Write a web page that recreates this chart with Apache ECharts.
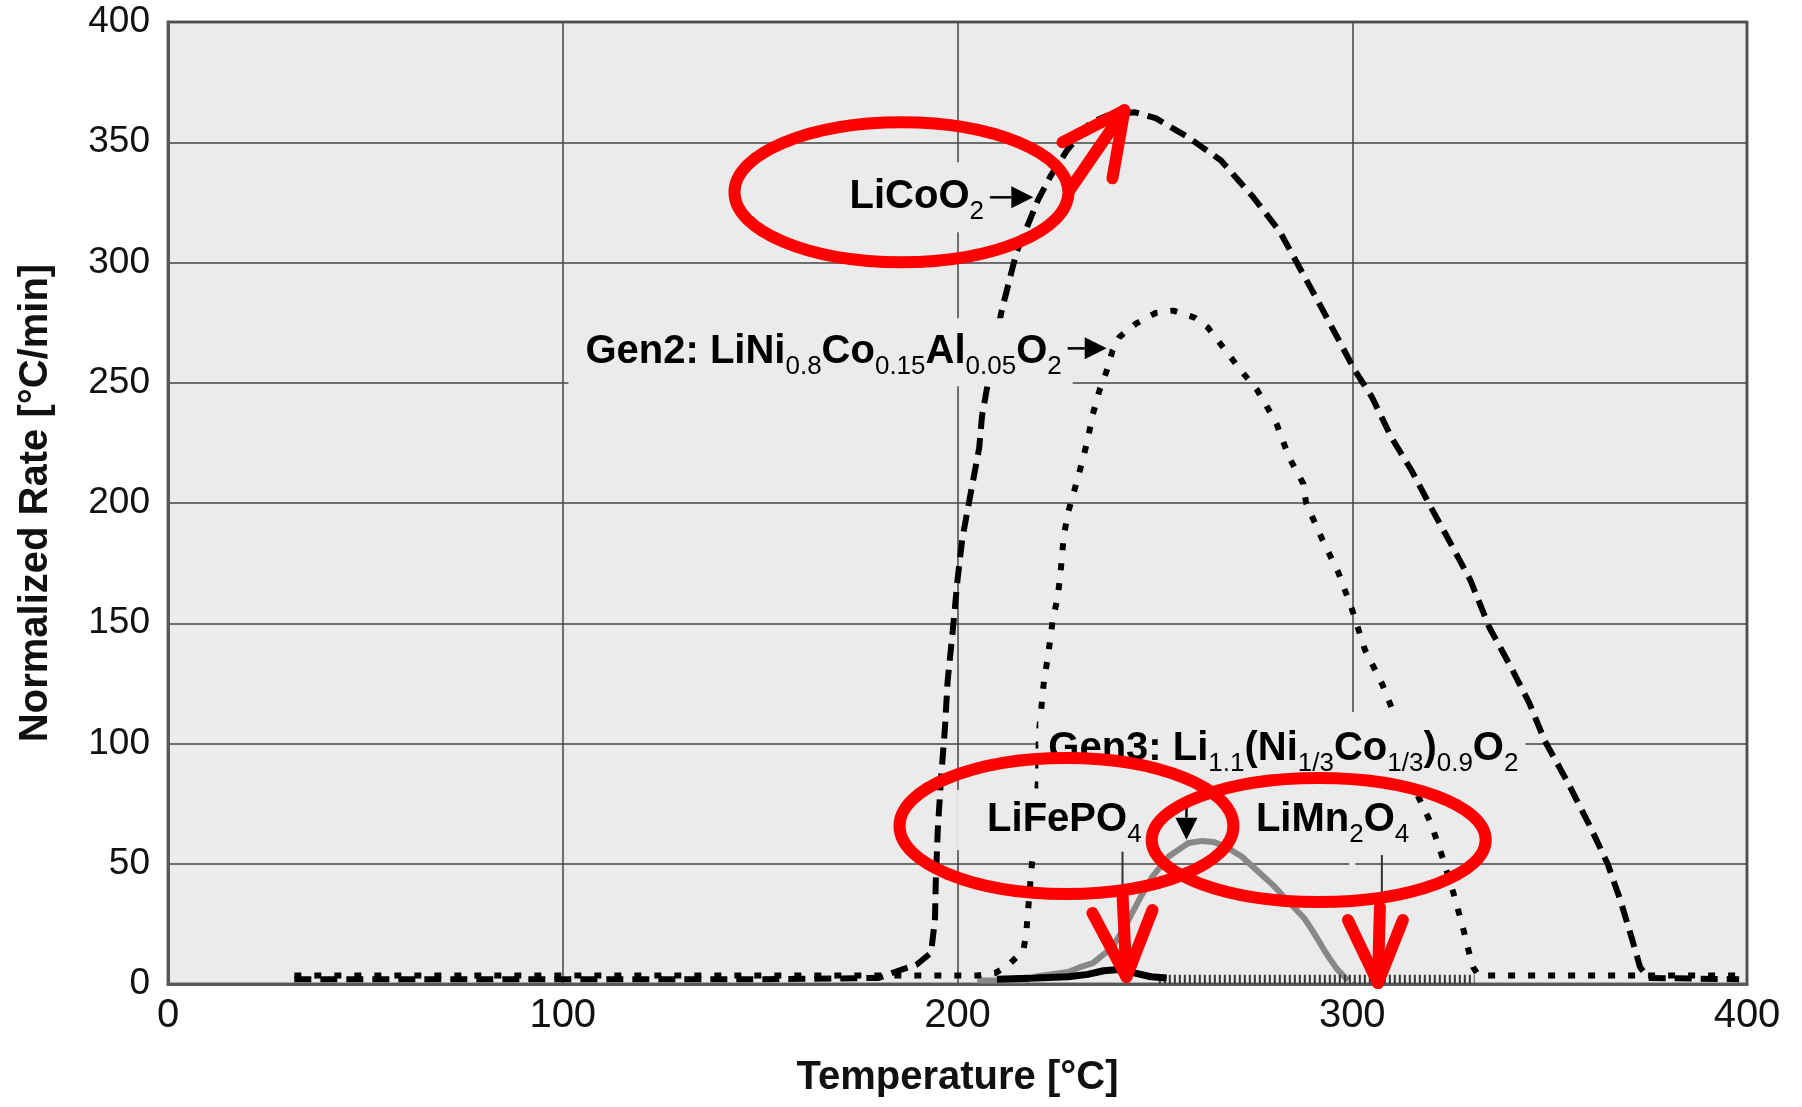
<!DOCTYPE html>
<html>
<head>
<meta charset="utf-8">
<script src="https://cdn.jsdelivr.net/npm/echarts@6/dist/echarts.min.js"></script>
<style>
  html, body { margin: 0; padding: 0; background: #fff; }
  #main { width: 1802px; height: 1107px; }
</style>
</head>
<body>
<div id="main"></div>
<script>
// [temperature °C, normalized rate °C/min]
var licoo2 = [[32,2],[100,2],[150,2],[180,2.5],[185,5.5],[189.6,8],[193.3,13],[194.3,27],[194.5,43],[195,64],
  [195.8,85],[196.8,106],[197.5,126],[198.8,147],[200,168],[201.2,185],[203,201],[205.5,223],[206.2,236],
  [207.5,248],[209.3,265],[211.2,280],[212.9,291],[214.9,304],[217.9,316],[220.4,326],[223.6,336],[227.9,347],
  [233.6,358],[237.8,361],[244.8,362.5],[250.2,360],[258.5,352],[266.7,342.5],[275,327],[281.6,313],[286.6,298],
  [290.8,285.5],[296.5,268],[300.7,255],[305,244],[310,227],[315,213.6],[320,198],[325,183],[329.9,168],
  [334.8,148],[339.8,133],[344.8,117],[348.8,101],[354.7,83.5],[360.4,65],[364.7,50],[367.9,35],[371,18],
  [372.9,7],[375,2.5],[398,2]];
var gen2 = [[32,3.5],[205,3.5],[209.5,4.5],[213,8],[216.7,14],[217.4,21],[217.9,31],[218.7,47],[219.2,56],
  [220.4,85],[220.6,104],[221.9,126],[222.9,136],[224.1,151],[225.4,161],[226.1,171],[226.9,186],[228,196],
  [229.4,204],[231,213.6],[232.8,225],[234.3,237],[236,247],[237.8,255],[239.3,263.5],[241,269],[245.3,274.7],
  [250.2,279],[254.7,280],[260.2,277],[263.4,273],[266.7,266],[271.6,255.5],[275.9,247],[278.4,240],[280.8,233],
  [284,219],[287.6,208],[288.3,200],[292.5,184.5],[296.5,171],[300,155.5],[303.2,139],[307.5,125],[310.2,114],
  [313.5,96],[316.4,79],[319.9,67],[323.1,51.5],[325.6,38],[328,23.7],[329.9,11],[330.6,7],[332,3.5],[398,3.5]];
var gen3 = [[205,1.5],[217,1.5],[219.5,3],[224.9,4.3],[228,5],[231,7],[234.3,8.7],[239.3,15.4],[242.8,25],
  [246,35],[249.3,44.5],[253.5,53],[258.5,58.6],[262,59.5],[265,59],[268,57],[272,53],[276,47],[280,41],
  [284,34],[288,27],[290,22],[293.5,12.5],[296,6.5],[298,3],[299,1.5]];
var lifepo4 = [[210,2],[220,2.5],[228,3],[233,4],[237,5.5],[241,6],[245,4.5],[249,3],[253,2.5]];
var limn2o4 = [[251,2],[270,2],[290,2],[310,2],[331,2]];

var xTicks = [0, 100, 200, 300, 400];
var yTicks = [0, 50, 100, 150, 200, 250, 300, 350, 400];

// annotation anchors in data units (text edge, main text centre)
var labelTexts = [
  '{m|LiCoO}{s|2}',
  '{m|Gen2: LiNi}{s|0.8}{m|Co}{s|0.15}{m|Al}{s|0.05}{m|O}{s|2}',
  '{m|Gen3: Li}{s|1.1}{m|(Ni}{s|1/3}{m|Co}{s|1/3}{m|)}{s|0.9}{m|O}{s|2}',
  '{m|LiFePO}{s|4}',
  '{m|LiMn}{s|2}{m|O}{s|4}'
];
var labelAnchors = [[206.7, 327.1], [226.4, 262.7], [223.0, 97.7], [207.5, 68.2], [275.6, 68.2]];
var labelAligns = ['right', 'right', 'left', 'left', 'left'];
var labelPads = [[7, 6, 7, 60], [6, 11, 6, 17], [9, 7, 13, 10], [2, 10, 2, 30], [2, 4, 2, 8]];

var blackArrows = [[[208.2, 327.1], [219.2, 327.1]], [[227.9, 264.3], [237.8, 264.3]], [[258, 74.5], [258, 60]]];
var leaderLines = [[[241.8, 55], [241.8, 35]], [[307.5, 53.6], [307.5, 30]]];
// part of the 300 °C grid line that is blank in the original
var gridGap = [[300, 113], [300, 0]];

var redEllipses = [[185.8, 329.2, 167, 70], [227.6, 65.7, 167, 68], [291.5, 59.9, 167, 62]];
var redArrowTips = [[242.3, 363.3], [242.8, 2.9], [306.5, 0.4]];
var redArrowTails = [[-55, 80], [-4, -84], [2, -76]];
var redArrowHeads = [[[-62, 32], [-12, 68]], [[-34, -64], [26, -67]], [[-30, -63], [25, -63]]];

var FONT = "'Liberation Sans', Arial, sans-serif";
var PLOT_BG = '#ebebeb';

var rich = {
  m: { fontFamily: FONT, fontSize: 40, fontWeight: 'bold', color: '#000', lineHeight: 56, verticalAlign: 'middle' },
  s: { fontFamily: FONT, fontSize: 26, color: '#000', lineHeight: 26, verticalAlign: 'bottom' }
};

var labelData = labelTexts.map(function (t, i) {
  var pad = labelPads[i];
  var dx = labelAligns[i] === 'left' ? -pad[3] : pad[1];
  return {
    value: labelAnchors[i],
    label: { formatter: t, align: labelAligns[i], padding: pad, offset: [dx, (pad[2] - pad[0]) / 2] }
  };
});

var chart = echarts.init(document.getElementById('main'));

var option = {
  animation: false,
  grid: {
    left: 168, right: 55, top: 22, bottom: 123,
    show: true, backgroundColor: PLOT_BG, borderColor: '#6a6a6a', borderWidth: 3
  },
  xAxis: {
    type: 'value',
    min: xTicks[0], max: xTicks[xTicks.length - 1], interval: xTicks[1] - xTicks[0],
    axisLine: { lineStyle: { color: '#5a5a5a', width: 3 } },
    axisTick: { show: false },
    splitLine: { lineStyle: { color: '#454545', width: 1.5 } },
    axisLabel: { fontFamily: FONT, fontSize: 40, color: '#111', margin: 12 },
    name: 'Temperature [°C]', nameLocation: 'middle', nameGap: 74,
    nameTextStyle: { fontFamily: FONT, fontSize: 40, fontWeight: 'bold', color: '#111' }
  },
  yAxis: {
    type: 'value',
    min: yTicks[0], max: yTicks[yTicks.length - 1], interval: yTicks[1] - yTicks[0],
    axisLine: { show: true, lineStyle: { color: '#5a5a5a', width: 3 } },
    axisTick: { show: false },
    splitLine: { lineStyle: { color: '#454545', width: 1.5 } },
    axisLabel: { fontFamily: FONT, fontSize: 37, color: '#111', margin: 18 },
    name: 'Normalized Rate [°C/min]', nameLocation: 'middle', nameGap: 112, nameRotate: 90,
    nameTextStyle: { fontFamily: FONT, fontSize: 40, fontWeight: 'bold', color: '#111' }
  },
  series: [
    { name: 'Gen3', type: 'line', data: gen3, showSymbol: false, z: 2,
      lineStyle: { color: '#888', width: 6 } },
    { name: 'LiMn2O4', type: 'line', data: limn2o4, showSymbol: false, z: 3,
      lineStyle: { color: '#333', width: 9, type: [2, 3] } },
    { name: 'LiFePO4', type: 'line', data: lifepo4, showSymbol: false, z: 3,
      lineStyle: { color: '#000', width: 7 } },
    { name: 'Gen2', type: 'line', data: gen2, showSymbol: false, z: 4,
      lineStyle: { color: '#000', width: 6, type: [7, 13] } },
    { name: 'LiCoO2', type: 'line', data: licoo2, showSymbol: false, z: 5,
      lineStyle: { color: '#000', width: 6, type: [17, 9] } },
    { name: 'labels', type: 'scatter', data: labelData, symbolSize: 0, z: 10, silent: true,
      itemStyle: { opacity: 1 },
      label: { show: true, position: 'inside', verticalAlign: 'middle', opacity: 1,
        backgroundColor: PLOT_BG, rich: rich } }
  ]
};

chart.setOption(option);

function px(p) { return chart.convertToPixel({ gridIndex: 0 }, p); }

var g = [];
var gg0 = px(gridGap[0]), gg1 = px(gridGap[1]);
g.push({ type: 'rect', z: 1, shape: { x: gg0[0] - 3, y: gg0[1], width: 6, height: gg1[1] - gg0[1] - 2 },
  style: { fill: PLOT_BG } });
blackArrows.forEach(function (a) {
  var p0 = px(a[0]), p1 = px(a[1]);
  var dx = p1[0] - p0[0], dy = p1[1] - p0[1];
  var len = Math.sqrt(dx * dx + dy * dy), ux = dx / len, uy = dy / len;
  var hl = 22, hw = 11;
  var bx = p1[0] - ux * hl, by = p1[1] - uy * hl;
  g.push({ type: 'line', z: 100, shape: { x1: p0[0], y1: p0[1], x2: bx, y2: by },
    style: { stroke: '#000', lineWidth: 2.5 } });
  g.push({ type: 'polygon', z: 100, shape: { points: [[p1[0], p1[1]], [bx - uy * hw, by + ux * hw], [bx + uy * hw, by - ux * hw]] },
    style: { fill: '#000' } });
});
leaderLines.forEach(function (a) {
  var p0 = px(a[0]), p1 = px(a[1]);
  g.push({ type: 'line', z: 100, shape: { x1: p0[0], y1: p0[1], x2: p1[0], y2: p1[1] },
    style: { stroke: '#333', lineWidth: 2 } });
});
redEllipses.forEach(function (e) {
  var c = px([e[0], e[1]]);
  g.push({ type: 'ellipse', z: 110, shape: { cx: c[0], cy: c[1], rx: e[2], ry: e[3] },
    style: { fill: null, stroke: '#ff0000', lineWidth: 12 } });
});
redArrowTips.forEach(function (t, i) {
  var p = px(t);
  var tail = redArrowTails[i], h = redArrowHeads[i];
  g.push({ type: 'polyline', z: 111, shape: { points: [[p[0] + tail[0], p[1] + tail[1]], p] },
    style: { stroke: '#ff0000', lineWidth: 12, lineCap: 'round', fill: null } });
  g.push({ type: 'polyline', z: 111, shape: { points: [[p[0] + h[0][0], p[1] + h[0][1]], p, [p[0] + h[1][0], p[1] + h[1][1]]] },
    style: { stroke: '#ff0000', lineWidth: 12, lineCap: 'round', lineJoin: 'round', fill: null } });
});

chart.setOption({ graphic: { elements: g } });
</script>
</body>
</html>
